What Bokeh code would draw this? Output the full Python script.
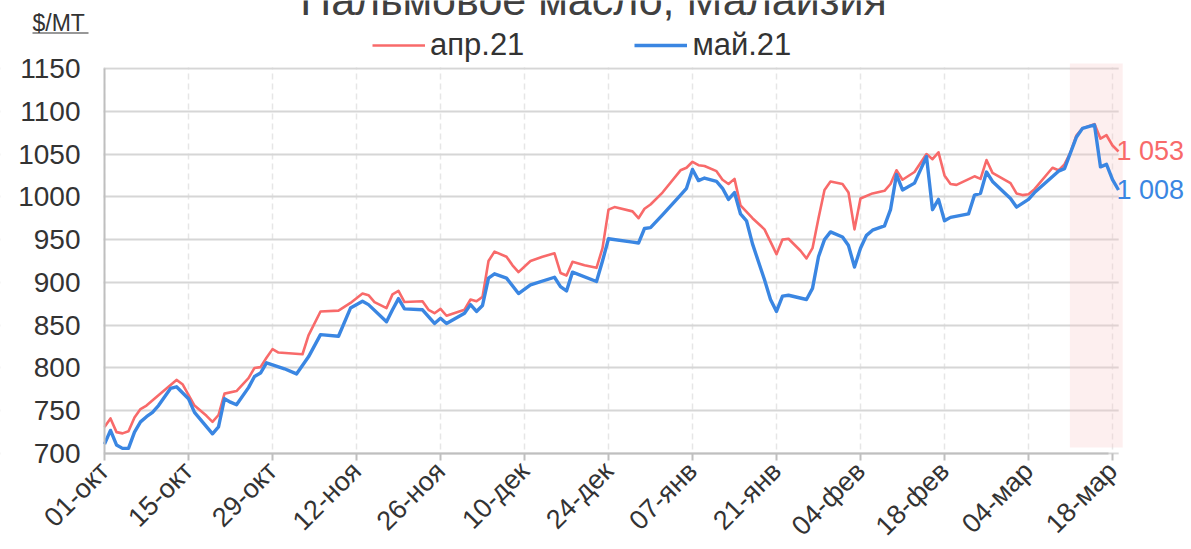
import math
from bokeh.plotting import figure
from bokeh.models import (FixedTicker, Label, Legend, LegendItem, BoxAnnotation,
                          Arrow, Range1d)
from bokeh.embed import file_html
from bokeh.resources import INLINE

# ---------------- data ----------------
title_text = "Пальмовое масло, Малайзия"
unit_text = "$/MT"
series_names = ["апр.21", "май.21"]

# x = days since 01-окт-2020
tick_days = [0, 14, 28, 42, 56, 70, 84, 98, 112, 126, 140, 154, 168]
tick_labels = ["01-окт", "15-окт", "29-окт", "12-ноя", "26-ноя", "10-дек", "24-дек",
               "07-янв", "21-янв", "04-фев", "18-фев", "04-мар", "18-мар"]
y_ticks = [700, 750, 800, 850, 900, 950, 1000, 1050, 1100, 1150]

apr_days = [0, 1, 2, 3, 4, 5, 6, 7, 9, 12, 13, 15, 17, 18, 19, 20, 22, 24, 25, 26, 27, 28, 29,
            33, 34, 36, 39, 41, 43, 44, 45, 47, 48, 49, 50, 53, 54, 55, 56, 57, 60, 61, 62, 63,
            64, 65, 67, 68, 69, 71, 73, 75, 76, 77, 78, 80, 82, 83, 84, 85, 88, 89, 90, 91, 93,
            96, 97, 98, 99, 100, 102, 103, 104, 105, 106, 108, 110, 112, 113, 114, 116, 117,
            118, 119, 120, 121, 123, 124, 125, 126, 128, 130, 131, 132, 133, 135, 137, 138,
            139, 140, 141, 142, 145, 146, 147, 148, 151, 152, 153, 154, 155, 158, 159, 160,
            161, 162, 163, 165, 166, 167, 168, 169]
apr_values = [731, 741, 725, 723.5, 726, 742, 752, 756, 768, 786, 781, 756, 744, 737, 745, 770,
              773, 788, 800, 801, 812, 822, 818,
              816, 838, 866, 867, 876, 887, 885, 877, 870, 886, 890, 877, 878, 868, 864, 869,
              861, 868, 880, 878, 883,
              925, 936, 930, 920, 912, 925, 930, 934, 911, 908, 924, 920, 917, 940, 985, 988,
              983, 975, 986, 991, 1005,
              1031, 1034, 1041, 1037, 1036, 1030, 1020, 1015, 1021, 990, 975, 962, 933, 950,
              951, 937, 928,
              940, 975, 1008, 1018, 1015, 1005, 962, 998, 1004, 1007, 1015, 1031, 1020, 1029,
              1050, 1044,
              1052, 1025, 1015, 1014, 1024, 1021, 1043, 1028, 1016, 1004, 1002, 1003, 1009,
              1034, 1031, 1038,
              1052, 1072, 1080, 1085, 1068, 1072, 1060, 1053]

may_days = [0, 1, 2, 3, 4, 5, 6, 7, 8, 9, 11, 12, 13, 14, 15, 18, 19, 20, 21, 22, 24, 25, 26,
            27, 30, 32, 34, 36, 39, 41, 43, 44, 47, 48, 49, 50, 53, 54, 55, 56, 57, 60, 61, 62,
            63, 64, 65, 67, 69, 71, 75, 76, 77, 78, 82, 83, 84, 88, 89, 90, 91, 93, 96, 97, 98,
            99, 100, 102, 103, 104, 105, 106, 107, 108, 110, 111, 112, 113, 114, 117, 118, 119,
            120, 121, 123, 124, 125, 126, 127, 128, 130, 131, 132, 133, 135, 137, 138, 139,
            140, 141, 144, 145, 146, 147, 148, 151, 152, 154, 155, 159, 160, 162, 163, 165,
            166, 167, 168, 169]
may_values = [711, 727, 710, 706, 706, 725, 737, 743, 748, 756, 776, 778, 771, 764, 748, 723,
              731, 764, 760, 757, 777, 790, 794,
              806, 799, 793, 813, 839, 837, 870, 878, 874, 854, 868, 881, 869, 868, 860, 852,
              858, 852, 864, 874, 866,
              873, 905, 910, 905, 887, 897, 906, 895, 890, 912, 901, 925, 951, 947, 946, 963,
              964, 979, 1002, 1010, 1032,
              1019, 1022, 1018, 1010, 997, 1005, 980, 972, 945, 903, 880, 866, 884, 885, 880,
              893, 930,
              950, 959, 953, 943, 918, 940, 955, 961, 966, 985, 1026, 1008, 1016, 1047, 985,
              997,
              972, 976, 980, 1002, 1004, 1029, 1018, 998, 988, 997, 1005, 1030, 1033, 1070,
              1080, 1084,
              1035, 1038, 1020, 1008]

highlight_days = [160.9, 169.7]
last_labels = ["1 053", "1 008"]

# ---------------- layout ----------------
W, H = 1191, 549
PX_DAY = 6.0           # pixels per day
LEFT_PX, TOP_PX, BOTTOM_PX = 104, 68, 453
Y0, Y1 = 700, 1150
PX_VAL = (BOTTOM_PX - TOP_PX) / (Y1 - Y0)
X_END = 169.33

x_start = -LEFT_PX / PX_DAY
x_end = (W - LEFT_PX) / PX_DAY
y_start = Y0 - (H - BOTTOM_PX) / PX_VAL
y_end = Y1 + TOP_PX / PX_VAL


def y_at(px):
    """data y for a page pixel row"""
    return Y0 + (BOTTOM_PX - px) / PX_VAL


def x_at(px):
    return (px - LEFT_PX) / PX_DAY


RED = "#F86A6A"
BLUE = "#3A86E2"
TXT = "#333333"
FONT = "Liberation Sans"

p = figure(width=W, height=H, output_backend="svg", toolbar_location=None, title=None,
           x_range=Range1d(x_start, x_end), y_range=Range1d(y_start, y_end),
           min_border=0)
p.outline_line_color = None
p.background_fill_color = "white"
p.border_fill_color = "white"

# axes drawn at fixed data locations
p.yaxis.fixed_location = 0
p.yaxis.bounds = (Y0, Y1)
p.yaxis.ticker = FixedTicker(ticks=y_ticks)
p.yaxis.major_label_text_font_size = "28px"
p.yaxis.major_label_text_color = TXT
p.yaxis.major_label_text_font = FONT
p.yaxis.major_tick_line_color = None
p.yaxis.major_tick_out = 0
p.yaxis.major_tick_in = 0
p.yaxis.minor_tick_line_color = None
p.yaxis.minor_tick_out = 0
p.yaxis.axis_line_color = "#BFBFBF"
p.yaxis.axis_line_width = 2
p.yaxis.major_label_standoff = 24

p.xaxis.fixed_location = Y0
p.xaxis.bounds = (0, X_END - 2)
p.xaxis.ticker = FixedTicker(ticks=tick_days)
p.xaxis.major_label_overrides = {d: lab for d, lab in zip(tick_days, tick_labels)}
p.xaxis.major_label_orientation = math.pi / 4
p.xaxis.major_label_text_font_size = "27px"
p.xaxis.major_label_text_color = TXT
p.xaxis.major_label_text_font = FONT
p.xaxis.major_tick_out = 7
p.xaxis.major_tick_in = 0
p.xaxis.major_tick_line_color = "#BFBFBF"
p.xaxis.major_tick_line_width = 2
p.xaxis.minor_tick_line_color = None
p.xaxis.minor_tick_out = 0
p.xaxis.axis_line_color = "#BFBFBF"
p.xaxis.axis_line_width = 2
p.xaxis.major_label_standoff = 6

p.xgrid.ticker = FixedTicker(ticks=tick_days)
p.xgrid.grid_line_color = "#E6E6E6"
p.xgrid.grid_line_dash = "6 4"
p.xgrid.grid_line_width = 1.5
p.ygrid.ticker = FixedTicker(ticks=y_ticks)
p.ygrid.grid_line_color = "#D6D6D6"
p.ygrid.grid_line_width = 2

# white masks to keep the grid inside the plotting area
eps_y = 1.3 / PX_VAL
for kw in (dict(right=-0.15), dict(left=X_END - 0.3), dict(bottom=Y1 + eps_y),
           dict(top=Y0 - eps_y)):
    p.add_layout(BoxAnnotation(fill_color="white", fill_alpha=1, line_color=None,
                               level="underlay", **kw))

# highlight band
p.add_layout(BoxAnnotation(left=highlight_days[0], right=highlight_days[1],
                           bottom=Y0 + 6 / PX_VAL, top=Y1 + 5 / PX_VAL,
                           fill_color="#F7CACA", fill_alpha=0.3, line_color=None,
                           level="underlay"))

r_apr = p.line(apr_days, apr_values, line_color=RED, line_width=2.6, line_join="round")
r_may = p.line(may_days, may_values, line_color=BLUE, line_width=3.4, line_join="round")

# title (partly above the visible area)
p.add_layout(Label(x=x_at(593), y=y_at(-1), text=title_text,
                   text_align="center", text_baseline="alphabetic", text_font_size="43px",
                   text_color="#404040", text_font=FONT))

# unit label with underline
p.add_layout(Label(x=x_at(32), y=y_at(22), text=unit_text,
                   text_align="left", text_baseline="alphabetic", text_font_size="23px",
                   text_color=TXT, text_font=FONT))
uy = y_at(32.5)
p.add_layout(Arrow(end=None, x_start=x_at(32), y_start=uy, x_end=x_at(88), y_end=uy,
                   line_color=TXT, line_width=1.2))

# last value labels
p.add_layout(Label(x=apr_days[-1], y=apr_values[-1], text=last_labels[0],
                   text_align="left", text_baseline="middle", x_offset=-2,
                   text_font_size="27px", text_color=RED, text_font=FONT))
p.add_layout(Label(x=may_days[-1], y=may_values[-1], text=last_labels[1],
                   text_align="left", text_baseline="middle", x_offset=-2,
                   text_font_size="27px", text_color=BLUE, text_font=FONT))

legend = Legend(items=[LegendItem(label=series_names[0], renderers=[r_apr]),
                       LegendItem(label=series_names[1], renderers=[r_may])],
                orientation="horizontal", location=(372, H - 63),
                glyph_width=53, label_standoff=5, spacing=110, padding=0, margin=0,
                border_line_color=None, background_fill_alpha=0,
                label_text_font_size="31px", label_text_color=TXT, label_text_font=FONT)
p.add_layout(legend, "center")

open("out.html", "w").write(file_html(p, INLINE))
